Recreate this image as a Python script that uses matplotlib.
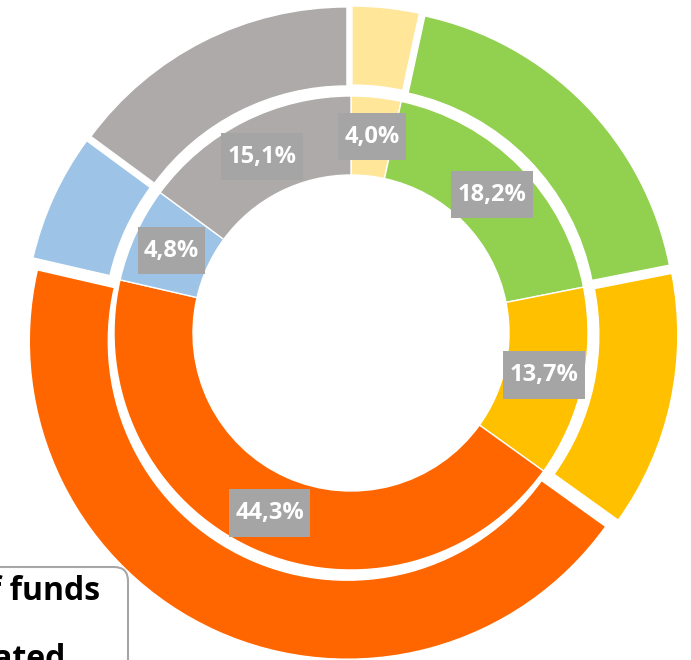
import matplotlib.pyplot as plt
from matplotlib.patches import FancyBboxPatch

slices = [3.4, 18.5, 13.0, 43.7, 6.5, 14.9]
# labels printed on the inner ring
labels = ["4,0%", "18,2%", "13,7%", "44,3%", "4,8%", "15,1%"]
colors = ["#FFE699", "#92D050", "#FFC000", "#FF6600", "#9DC3E6", "#AEAAAA"]
box_lines = ["Share of funds", "allocated"]

W, H = 691, 660
S = 318.0          # pixels per data unit (outer radius)
CX, CY = 351, 333  # pie centre in pixels, from top-left


def px(x, y):
    # pixel position -> data coords
    return (x - CX) / S, (CY - y) / S


fig = plt.figure(figsize=(W / 100, H / 100), dpi=100)
ax = fig.add_axes([0, 0, 1, 1])

# outer ring, exploded
ax.pie(slices, radius=1.0, colors=colors, startangle=90, counterclock=False,
       explode=[9 / S] * len(slices),
       wedgeprops=dict(width=(318 - 239) / S, edgecolor="white", linewidth=1))

# inner ring with percentage labels
r_in = 237 / S
wedges, texts = ax.pie(
    slices, radius=r_in, colors=colors, startangle=90, counterclock=False,
    labels=labels, labeldistance=197.5 / 237,
    wedgeprops=dict(width=(237 - 158) / S, edgecolor="white", linewidth=1),
    textprops=dict(color="white", fontsize=17, fontweight="bold", family="Open Sans"))
for t in texts:
    t.set_ha("center")
    t.set_va("center")
    t.set_bbox(dict(boxstyle="square,pad=0.26", facecolor="#A5A5A5", edgecolor="none"))
    t.get_bbox_patch().set_mutation_aspect(1.9)

# text box in the lower left corner (cut by the figure edge)
x0, y0 = px(-40, 720)
x1, y1 = px(128, 567)
box = FancyBboxPatch((x0, y0), x1 - x0, y1 - y0,
                     boxstyle=f"round,pad=0,rounding_size={14 / S}",
                     facecolor="white", edgecolor="#A6A6A6", linewidth=1.5)
ax.add_patch(box)
ax.text(*px(100, 600), box_lines[0], ha="right", va="baseline",
        fontsize=23, fontweight="bold", family="Open Sans", color="black")
ax.text(*px(66, 668), box_lines[1], ha="right", va="baseline",
        fontsize=23, fontweight="bold", family="Open Sans", color="black")

ax.set_xlim(-CX / S, (W - CX) / S)
ax.set_ylim(-(H - CY) / S, CY / S)
ax.axis("off")

fig.savefig("out.png", dpi=100)
